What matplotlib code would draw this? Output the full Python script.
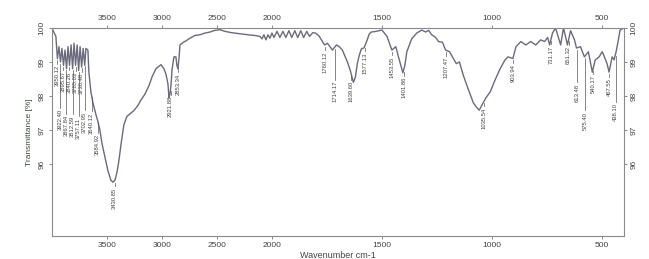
import numpy as np
import matplotlib
matplotlib.use("Agg")
import matplotlib.pyplot as plt

# spectrum (wavenumber cm-1, transmittance %)
wavenumber = [4000, 3964, 3950, 3936, 3922, 3909, 3895, 3881, 3867, 3854,
              3840, 3826, 3812, 3799, 3785, 3771, 3757, 3744, 3730, 3716,
              3702, 3691, 3673, 3664, 3655, 3645, 3627,
              3600, 3582, 3564, 3545, 3518, 3491, 3464, 3445, 3427, 3409,
              3391, 3373, 3346, 3318, 3291, 3255, 3218, 3191, 3155, 3118,
              3091, 3055, 3009, 2982, 2964, 2945, 2936, 2927, 2918, 2909,
              2891, 2873, 2864, 2855, 2845, 2836, 2809, 2782, 2745, 2700,
              2655, 2609, 2564, 2518, 2473, 2427, 2364, 2291, 2218, 2155,
              2109, 2091, 2073, 2055, 2036, 2018, 2000,
              1991, 1977, 1964, 1950, 1937, 1923, 1910, 1896, 1883, 1869,
              1856, 1842, 1829, 1815, 1802, 1788, 1775, 1761, 1748, 1725,
              1707, 1694, 1680, 1657, 1644, 1630, 1621, 1612, 1603, 1594,
              1581, 1567, 1558, 1549, 1527, 1500, 1477, 1455, 1437, 1423,
              1405, 1396, 1387, 1365, 1342, 1319, 1301, 1288, 1274, 1256,
              1243, 1225, 1211, 1193, 1175, 1162, 1148, 1130, 1108, 1085,
              1072, 1058, 1040, 1027, 1008, 986, 963, 941, 927, 914,
              905, 891, 869, 846, 824, 801, 779, 761, 747, 738,
              725, 711, 702, 688, 675, 666, 657, 643, 625, 616,
              598, 580, 562, 553, 544, 531, 513, 499, 486, 477,
              468, 454, 445, 436, 427, 418, 400]
transmittance = [100.0, 99.75, 99.1, 99.45, 99.0, 99.4, 98.9, 99.35, 98.8, 99.45,
                 98.9, 99.5, 98.8, 99.55, 98.9, 99.5, 98.75, 99.45, 98.85, 99.4,
                 98.9, 99.4, 99.35, 98.7, 98.4, 98.1, 97.8,
                 97.45, 97.25, 97.0, 96.6, 96.2, 95.8, 95.52, 95.46, 95.52, 95.75,
                 96.1, 96.55, 97.15, 97.4, 97.47, 97.57, 97.72, 97.88, 98.05, 98.3,
                 98.55, 98.8, 98.92, 98.8, 98.65, 98.35, 97.95, 98.05, 98.3, 98.75,
                 99.15, 99.15, 98.9, 98.8, 99.1, 99.5, 99.57, 99.62, 99.7, 99.78,
                 99.8, 99.85, 99.88, 99.93, 99.95, 99.9, 99.86, 99.83, 99.8, 99.78,
                 99.75, 99.68, 99.8, 99.65, 99.8, 99.7, 99.85,
                 99.72, 99.9, 99.72, 99.9, 99.72, 99.92, 99.72, 99.92, 99.72, 99.92,
                 99.72, 99.9, 99.75, 99.86, 99.85, 99.78, 99.65, 99.5, 99.55, 99.35,
                 99.5, 99.45, 99.35, 99.0, 98.75, 98.4, 98.55, 98.95, 99.2, 99.38,
                 99.42, 99.65, 99.82, 99.88, 99.9, 99.94, 99.75, 99.35, 99.45, 99.1,
                 98.68, 98.9, 99.3, 99.68, 99.85, 99.94, 99.88, 99.93, 99.8, 99.72,
                 99.6, 99.58, 99.35, 99.3, 99.1, 98.95, 99.0, 98.6, 98.2, 97.8,
                 97.68, 97.58, 97.8, 97.95, 98.12, 98.47, 98.8, 99.06, 99.15, 99.12,
                 99.1, 99.45, 99.6, 99.5, 99.6, 99.5, 99.65, 99.6, 99.72, 99.5,
                 99.85, 100.0, 99.8, 99.5, 100.0, 99.75, 99.5, 99.92, 99.65, 99.41,
                 99.45, 99.15, 99.3, 99.0, 98.7, 99.06, 99.15, 99.3, 99.1, 98.95,
                 98.7, 99.15, 99.06, 99.3, 99.6, 99.94, 100.0]

peak_labels = ["3950.12", "3922.40", "3895.67", "3867.84", "3840.26", "3812.59",
               "3785.03", "3757.11", "3730.48", "3702.95", "3640.12", "3584.92",
               "3430.85", "2921.88", "2853.34", "1760.12", "1714.17", "1639.60",
               "1577.13", "1453.55", "1401.86", "1207.47", "1035.54", "903.94",
               "731.17", "651.32", "613.48", "575.40", "540.17", "467.55",
               "438.10"]
# extra length of the leader line below the curve, in % units
label_drop = {"3922.40": 1.2, "3867.84": 1.2, "3812.59": 1.2, "3757.11": 1.2,
              "3702.95": 1.2, "3640.12": 0.3, "3584.92": 0.2, "1714.17": 0.8,
              "613.48": 0.85, "575.40": 1.45, "438.10": 1.25}

x_ticks = [3500, 3000, 2500, 2000, 1500, 1000, 500]
y_ticks = [96, 97, 98, 99, 100]


# x axis is compressed 2:1 above 2000 cm-1
def fwd(w):
    w = np.asarray(w, dtype=float)
    return np.where(w >= 2000, w, 2 * w - 2000)


def inv(u):
    u = np.asarray(u, dtype=float)
    return np.where(u >= 2000, u, (u + 2000) / 2)


plt.rcParams['font.family'] = ['Liberation Sans', 'DejaVu Sans']

fig = plt.figure(figsize=(6.49, 2.59), dpi=100)
ax = fig.add_axes([0.080, 0.089, 0.8815, 0.803])
ax.set_xscale('function', functions=(fwd, inv))

line_col = '#6a6a7c'
ax.plot(wavenumber, transmittance, color=line_col, lw=1.0)

wn_sorted = np.array(wavenumber[::-1])
tr_sorted = np.array(transmittance[::-1])
for lab in peak_labels:
    w = float(lab)
    yc = np.interp(w, wn_sorted, tr_sorted)
    d = label_drop.get(lab, 0.0)
    ax.plot([w, w], [yc - 0.06, yc - 0.16 - d], color='#555555', lw=0.5)
    ax.text(w, yc - 0.2 - d, lab, rotation=90, ha='center', va='top',
            fontsize=4.2, color='#444444')

ax.set_xlim(4000, 400)
ax.set_ylim(93.88, 100.0)
ax.set_xticks(x_ticks)
ax.set_yticks(y_ticks)
ax.tick_params(axis='both', labelsize=6, length=2.5, width=0.6, color='#777777',
               labelcolor='#444444', top=True, labeltop=True, right=True,
               labelright=True, pad=2)
for t in ax.get_yticklabels():
    t.set_rotation(90)
    t.set_va('center')
for s in ax.spines.values():
    s.set_color('#8a8a8a')
    s.set_linewidth(0.8)

ax.set_ylabel('Transmittance [%]', fontsize=6, color='#3f4a40', labelpad=4)
fig.text(0.52, 0.03, 'Wavenumber cm-1', ha='center', va='top', fontsize=6.5,
         color='#444444')

fig.savefig('out.png', dpi=100)
